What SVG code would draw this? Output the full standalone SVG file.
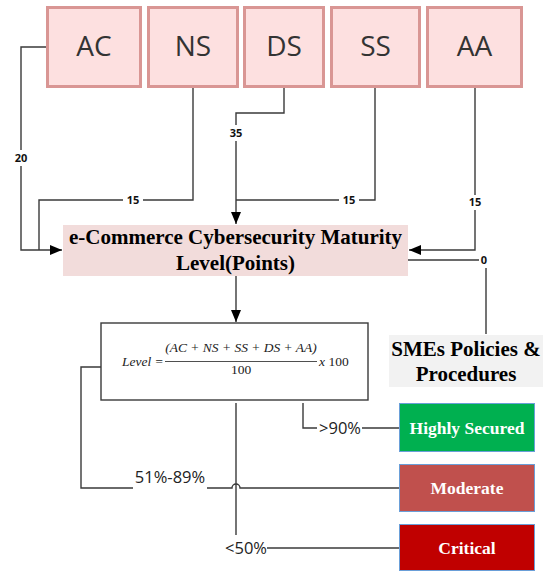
<svg xmlns="http://www.w3.org/2000/svg" width="543" height="571" viewBox="0 0 543 571">
  <defs>
    <marker id="arrow" viewBox="0 0 12 10" refX="12" refY="5" markerWidth="12" markerHeight="10" markerUnits="userSpaceOnUse" orient="auto">
      <path d="M0,0 L12,5 L0,10 Z" fill="#000"/>
    </marker>
    <style>
      .cap rect { fill: #fde0e0; stroke: #d99694; stroke-width: 3; }
      .cap text { font-family: "Open Sans", "Noto Sans", sans-serif; font-size: 28px; fill: #333; text-anchor: middle; }
      .wire { fill: none; stroke: #3a3a3a; stroke-width: 1.4; }
      .pts { font-family: "Open Sans", "Liberation Sans", sans-serif; font-weight: bold; font-size: 11px; fill: #111; text-anchor: middle; }
      .pct { font-family: "Open Sans", "Liberation Sans", sans-serif; font-size: 16.5px; fill: #222; text-anchor: middle; }
      .title { font-family: "Liberation Serif", serif; font-weight: bold; font-size: 21px; fill: #000; text-anchor: middle; }
      .result rect { stroke: #6a9fd8; stroke-width: 1; }
      .result text { font-family: "Liberation Serif", serif; font-weight: bold; font-size: 17.5px; fill: #fff; text-anchor: middle; }
      .math { font-family: "Liberation Serif", "DejaVu Serif", serif; font-size: 13.5px; fill: #222; }
    </style>
  </defs>

  <!-- capability blocks -->
  <g id="node-ac" class="cap"><rect x="47.5" y="7.5" width="93" height="79"/><text x="94" y="56">AC</text></g>
  <g id="node-ns" class="cap"><rect x="148.5" y="7.5" width="89" height="79"/><text x="193" y="56">NS</text></g>
  <g id="node-ds" class="cap"><rect x="244.5" y="7.5" width="79" height="79"/><text x="284" y="56">DS</text></g>
  <g id="node-ss" class="cap"><rect x="331.5" y="7.5" width="88" height="79"/><text x="375.5" y="56">SS</text></g>
  <g id="node-aa" class="cap"><rect x="427.5" y="7.5" width="94" height="79"/><text x="474.5" y="56">AA</text></g>

  <!-- maturity level -->
  <g id="node-maturity">
    <rect x="63" y="225" width="345" height="51" fill="#f2dcdb"/>
    <text class="title" x="235.5" y="244">e-Commerce Cybersecurity Maturity</text>
    <text class="title" x="235.5" y="270">Level(Points)</text>
  </g>

  <!-- formula -->
  <g id="node-formula">
    <rect x="101" y="323" width="267" height="77" fill="#fff" stroke="#3a3a3a" stroke-width="1.4"/>
    <text class="math" x="122" y="366" font-style="italic">Level =</text>
    <text class="math" x="241" y="352" text-anchor="middle" font-style="italic">(AC + NS + SS + DS + AA)</text>
    <line x1="165" y1="361.5" x2="317" y2="361.5" stroke="#222" stroke-width="0.8"/>
    <text class="math" x="241" y="374" text-anchor="middle">100</text>
    <text class="math" x="319" y="366"><tspan font-style="italic">x</tspan> 100</text>
  </g>

  <!-- policies -->
  <g id="node-policies">
    <rect x="389" y="335" width="154" height="52" fill="#f2f2f2"/>
    <text class="title" x="466" y="356">SMEs Policies &amp;</text>
    <text class="title" x="466" y="381">Procedures</text>
  </g>

  <!-- outcome levels -->
  <g id="node-high" class="result"><rect x="399.5" y="403.5" width="135" height="48" fill="#00b050"/><text x="467" y="434">Highly Secured</text></g>
  <g id="node-moderate" class="result"><rect x="399.5" y="464.5" width="135" height="47" fill="#c0504d"/><text x="467" y="494">Moderate</text></g>
  <g id="node-critical" class="result"><rect x="399.5" y="524.5" width="135" height="46" fill="#c00000"/><text x="467" y="554">Critical</text></g>

  <!-- connectors -->
  <g id="connectors">
    <path class="wire" d="M46,47 H21 V150 M21,166 V250 H62" marker-end="url(#arrow)"/>
    <path class="wire" d="M193,88 V200 H143 M123,200 H39 V250"/>
    <path class="wire" d="M284,88 V113 H236 V125 M236,141 V224" marker-end="url(#arrow)"/>
    <path class="wire" d="M375,88 V200 H359 M339,200 H236"/>
    <path class="wire" d="M475,88 V195 M475,210 V250 H409" marker-end="url(#arrow)"/>
    <path class="wire" d="M408,260 H479 M486,268 V334"/>
    <path class="wire" d="M236,276 V322" marker-end="url(#arrow)"/>
    <path class="wire" d="M236,403 V535"/>
    <path class="wire" d="M267,548 H399"/>
    <path class="wire" d="M303,403 V428 H317 M362,428 H399"/>
    <path class="wire" d="M101,367 H81 V488 H133 M207,488 H232 A4,4 0 0 1 240,488 H399"/>

    <text class="pts" x="21" y="162">20</text>
    <text class="pts" x="133" y="204">15</text>
    <text class="pts" x="236" y="137">35</text>
    <text class="pts" x="349" y="204">15</text>
    <text class="pts" x="475" y="206">15</text>
    <text class="pts" x="484" y="264">0</text>

    <text class="pct" x="340" y="434">&gt;90%</text>
    <text class="pct" x="170" y="483">51%-89%</text>
    <text class="pct" x="246" y="554">&lt;50%</text>
  </g>
</svg>
